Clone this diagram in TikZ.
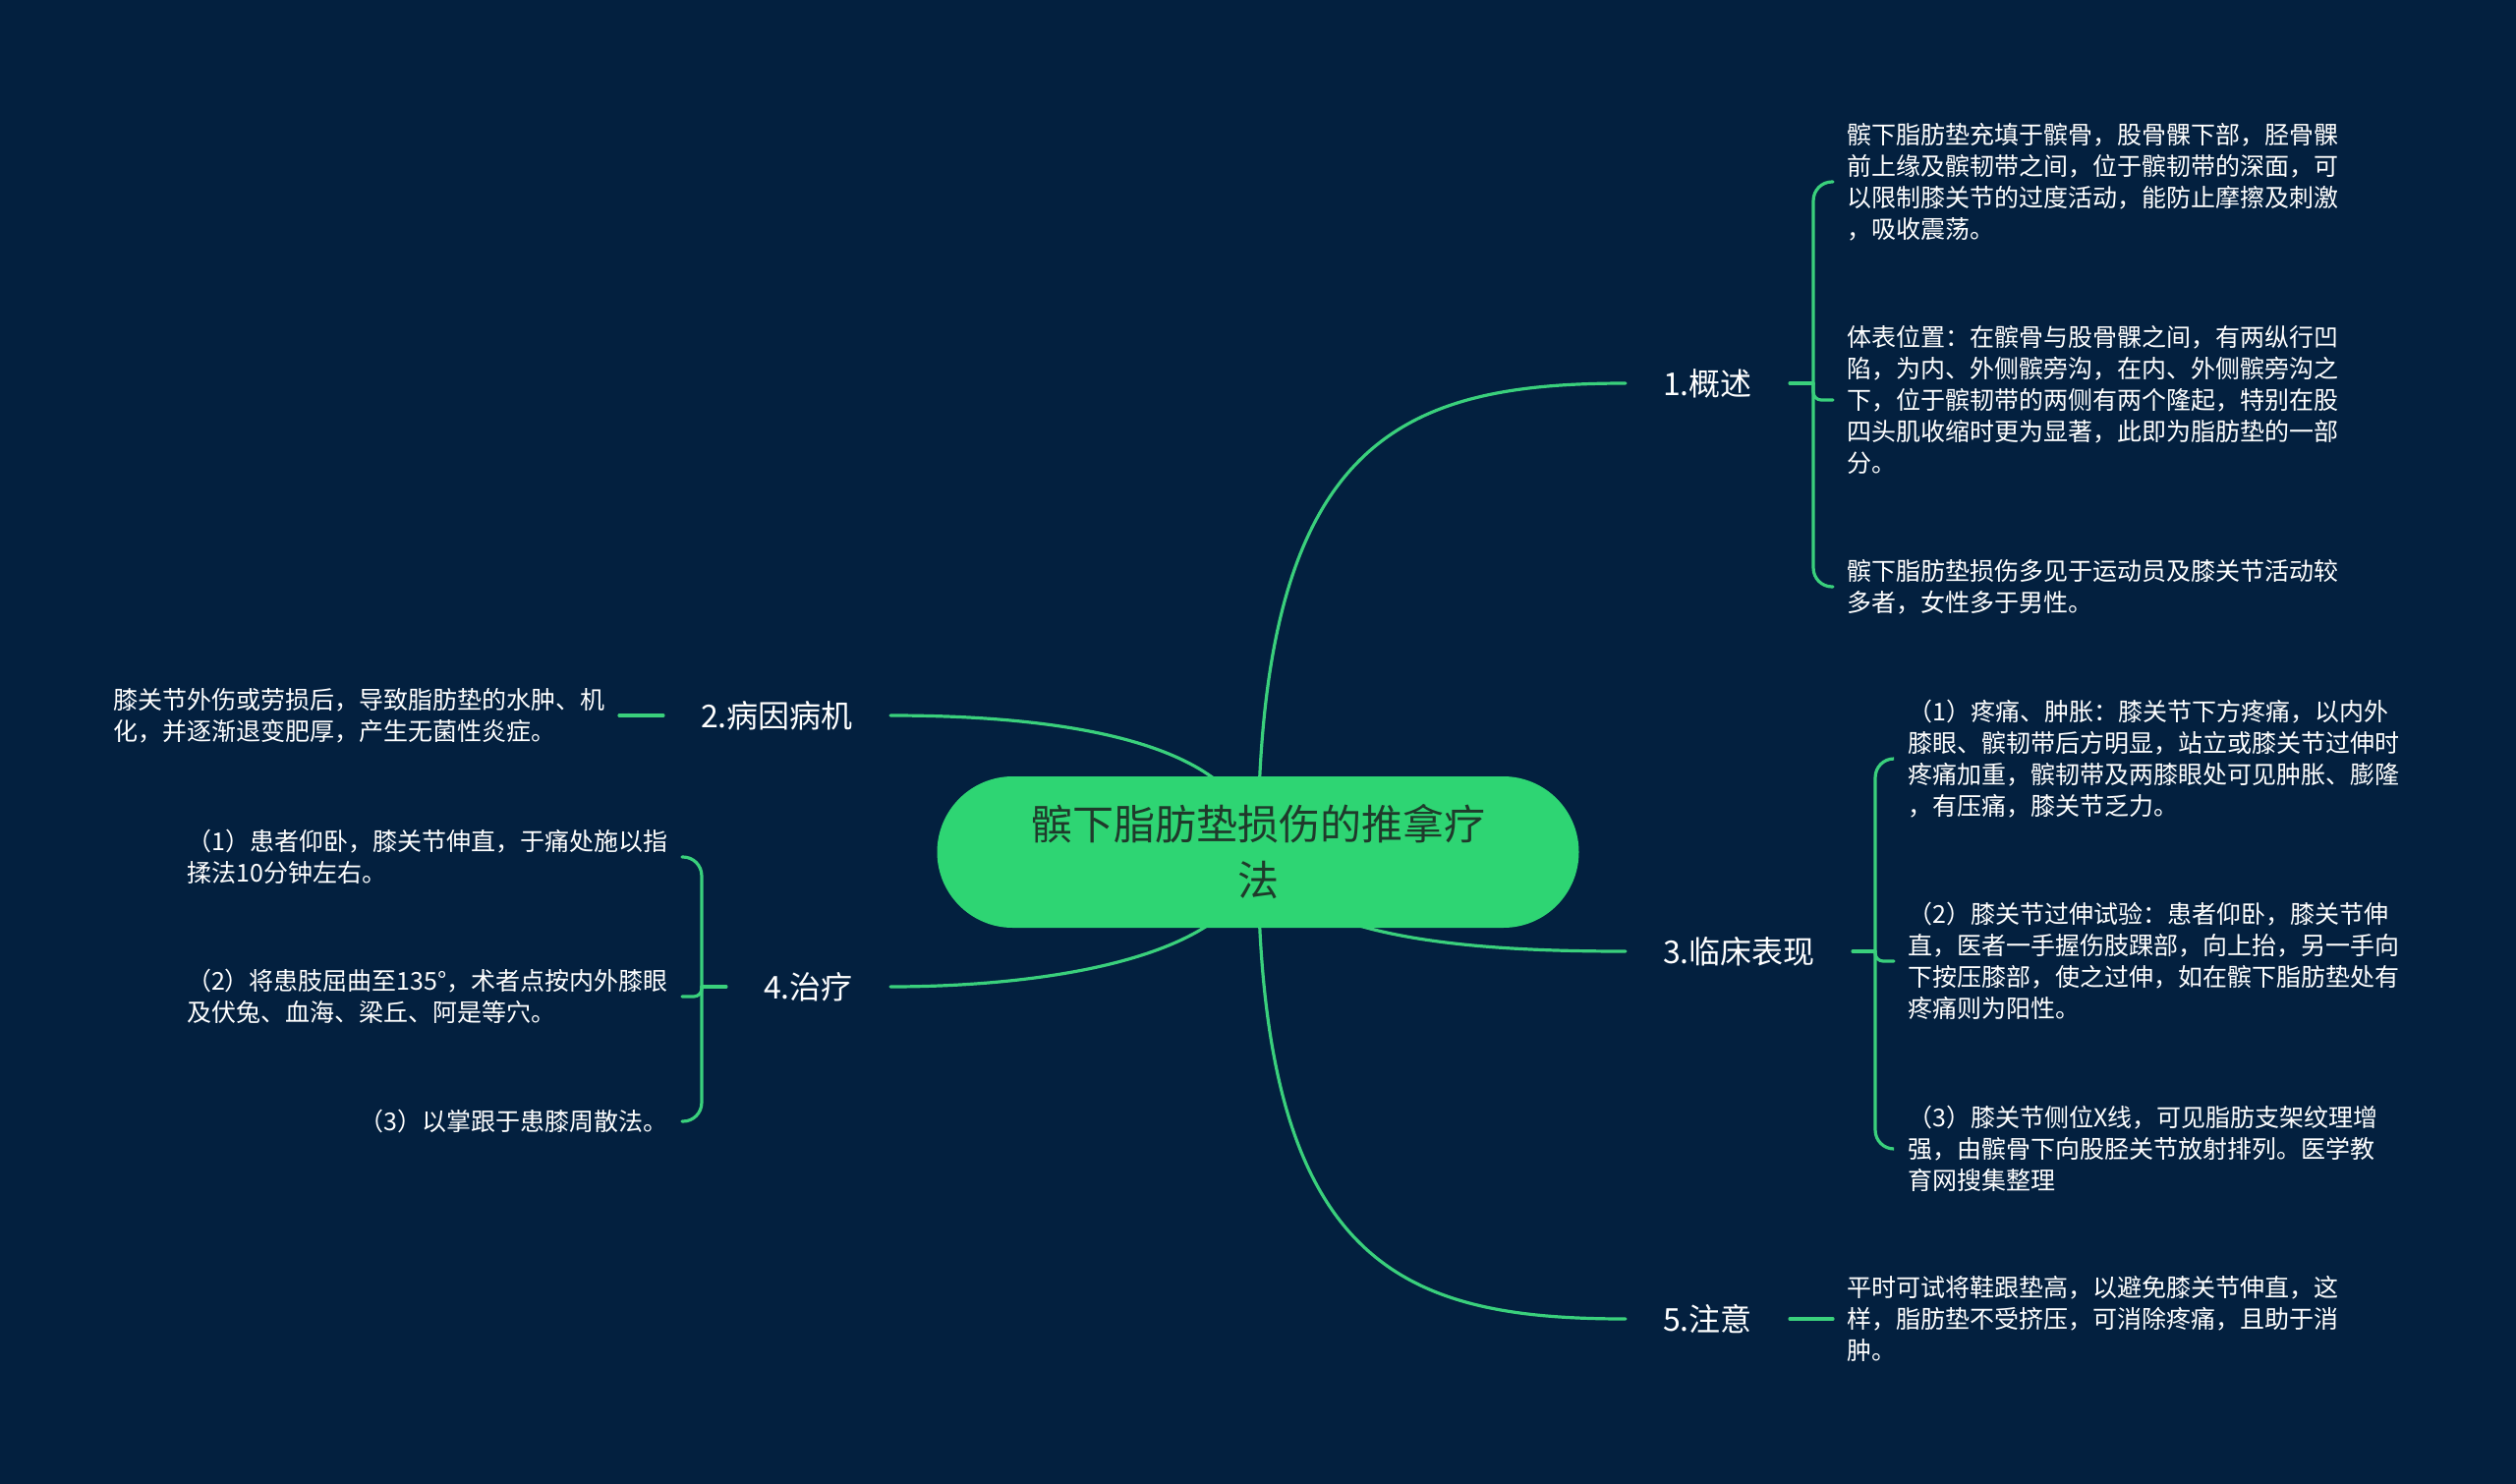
\documentclass[tikz,border=0pt]{standalone}
\usepackage{fontspec}
\setmainfont{Noto Sans CJK SC}
\usetikzlibrary{backgrounds}
\definecolor{mmbg}{HTML}{03203F}
\definecolor{mmgreen}{HTML}{2ED573}
\definecolor{mmline}{HTML}{3AD07C}
\definecolor{mmink}{HTML}{1F3A2B}
\definecolor{mmtext}{HTML}{FFFFFF}
\tikzset{
  mmroot/.style={
    fill=mmgreen, rounded corners=77pt, minimum width=653pt,
    minimum height=154pt, inner sep=0pt, align=center, text=mmink,
    font=\fontsize{42pt}{57pt}\selectfont},
  mmbranch/.style={
    inner xsep=38pt, inner ysep=4pt, text=mmtext,
    font=\fontsize{32pt}{38pt}\selectfont},
  mmleaf/.style={
    inner xsep=14pt, inner ysep=2pt, align=left, text=mmtext,
    font=\fontsize{25pt}{32pt}\selectfont},
  mmlink/.style={draw=mmline, line width=3.2pt, line cap=round},
  mmhook/.style={mmlink, rounded corners=#1},
  mmhook/.default=19pt,
}

\begin{document}
\begin{tikzpicture}[x=1pt, y=-1pt]

% Canvas.
\begin{scope}[on background layer]
\fill[mmbg] (0,0) rectangle (2560,1510);
\end{scope}

% Root.
\node[mmroot] (root) at (1280,867) {髌下脂肪垫损伤的推拿疗\\法};

% Branches.
\node[mmbranch, anchor=west] (b1) at (1654,390) {1.概述};
\node[mmbranch, anchor=east] (b2) at (906,728) {2.病因病机};
\node[mmbranch, anchor=west] (b3) at (1654,968) {3.临床表现};
\node[mmbranch, anchor=east] (b4) at (906,1004) {4.治疗};
\node[mmbranch, anchor=west] (b5) at (1654,1342) {5.注意};

% 1.概述 leaves.
\node[mmleaf, anchor=west] (l11) at (1865,185)
  {髌下脂肪垫充填于髌骨，股骨髁下部，胫骨髁\\前上缘及髌韧带之间，位于髌韧带的深面，可\\以限制膝关节的过度活动，能防止摩擦及刺激\\，吸收震荡。};
\node[mmleaf, anchor=west] (l12) at (1865,407)
  {体表位置：在髌骨与股骨髁之间，有两纵行凹\\陷，为内、外侧髌旁沟，在内、外侧髌旁沟之\\下，位于髌韧带的两侧有两个隆起，特别在股\\四头肌收缩时更为显著，此即为脂肪垫的一部\\分。};
\node[mmleaf, anchor=west] (l13) at (1865,597)
  {髌下脂肪垫损伤多见于运动员及膝关节活动较\\多者，女性多于男性。};

% 2.病因病机 leaf.
\node[mmleaf, anchor=east] (l2) at (630,728)
  {膝关节外伤或劳损后，导致脂肪垫的水肿、机\\化，并逐渐退变肥厚，产生无菌性炎症。};

% 3.临床表现 leaves.
\node[mmleaf, anchor=west] (l31) at (1927,772)
  {（1）疼痛、肿胀：膝关节下方疼痛，以内外\\膝眼、髌韧带后方明显，站立或膝关节过伸时\\疼痛加重，髌韧带及两膝眼处可见肿胀、膨隆\\，有压痛，膝关节乏力。};
\node[mmleaf, anchor=west] (l32) at (1927,978)
  {（2）膝关节过伸试验：患者仰卧，膝关节伸\\直，医者一手握伤肢踝部，向上抬，另一手向\\下按压膝部，使之过伸，如在髌下脂肪垫处有\\疼痛则为阳性。};
\node[mmleaf, anchor=west] (l33) at (1927,1169)
  {（3）膝关节侧位X线，可见脂肪支架纹理增\\强，由髌骨下向股胫关节放射排列。医学教\\育网搜集整理};

% 4.治疗 leaves.
\node[mmleaf, anchor=east] (l41) at (694,872)
  {（1）患者仰卧，膝关节伸直，于痛处施以指\\揉法10分钟左右。};
\node[mmleaf, anchor=east] (l42) at (694,1014)
  {（2）将患肢屈曲至135°，术者点按内外膝眼\\及伏兔、血海、梁丘、阿是等穴。};
\node[mmleaf, anchor=east] (l43) at (694,1141)
  {（3）以掌跟于患膝周散法。};

% 5.注意 leaf.
\node[mmleaf, anchor=west] (l5) at (1865,1342)
  {平时可试将鞋跟垫高，以避免膝关节伸直，这\\样，脂肪垫不受挤压，可消除疼痛，且助于消\\肿。};

% Brace junctions.
\coordinate (j1) at ([xshift=24pt]b1.east);
\coordinate (j3) at ([xshift=23pt]b3.east);
\coordinate (j4) at ([xshift=-25pt]b4.west);

\begin{scope}[on background layer]
% Root to branches.
\draw[mmlink] (root.center) .. controls +(0,-420) and +(-230,0) .. (b1.west);
\draw[mmlink] (root.center) .. controls +(-10,-120) and +(150,0) .. (b2.east);
\draw[mmlink] (root.center) .. controls +(30,90) and +(-150,0) .. (b3.west);
\draw[mmlink] (root.center) .. controls +(-10,110) and +(150,0) .. (b4.east);
\draw[mmlink] (root.center) .. controls +(0,420) and +(-230,0) .. (b5.west);

% Branches to leaves.
\draw[mmlink] (b1.east) -- (j1);
\draw[mmhook] (j1) |- (l11.west);
\draw[mmhook=8pt] (j1) |- (l12.west);
\draw[mmhook] (j1) |- (l13.west);

\draw[mmlink] (b2.west) -- (l2.east);

\draw[mmlink] (b3.east) -- (j3);
\draw[mmhook] (j3) |- (l31.west);
\draw[mmhook=8pt] (j3) |- (l32.west);
\draw[mmhook] (j3) |- (l33.west);

\draw[mmlink] (b4.west) -- (j4);
\draw[mmhook] (j4) |- (l41.east);
\draw[mmhook=8pt] (j4) |- (l42.east);
\draw[mmhook] (j4) |- (l43.east);

\draw[mmlink] (b5.east) -- (l5.west);
\end{scope}

\end{tikzpicture}
\end{document}
